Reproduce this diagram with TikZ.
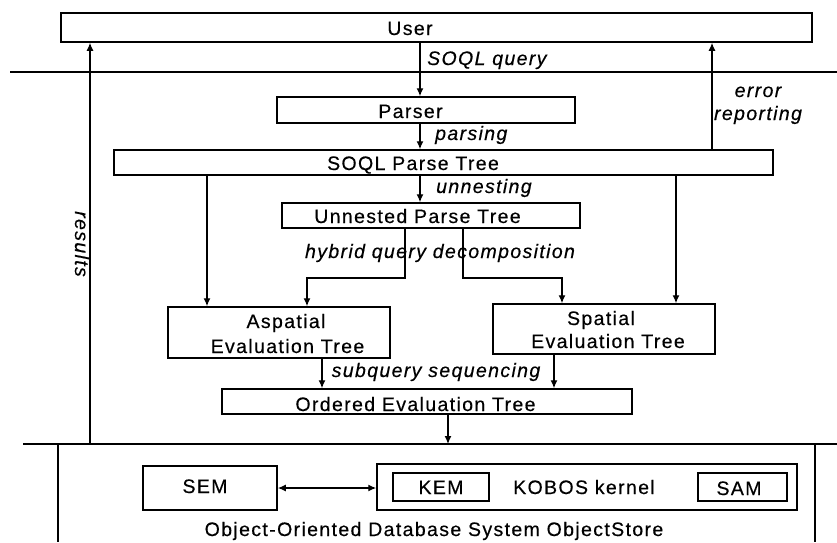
\documentclass[tikz,border=0pt]{standalone}
\usepackage{fontspec}
\setmainfont{Liberation Sans}[LetterSpace=7,FakeBold=0.4]
\usetikzlibrary{arrows.meta}
\begin{document}
\begin{tikzpicture}[x=1pt,y=-1pt,
  box/.style={draw, line width=1.5pt, inner sep=0pt},
  txt/.style={font=\fontsize{19.5}{24}\selectfont, inner sep=0pt, anchor=base},
  lbl/.style={font=\fontsize{19.5}{24}\selectfont\itshape, inner sep=0pt, anchor=base},
  arr/.style={-{Latex[length=8pt,width=7pt]}, line width=1.3pt},
  darr/.style={{Latex[length=8pt,width=7pt]}-{Latex[length=8pt,width=7pt]}, line width=1.3pt},
  sep/.style={line width=1.3pt}]
\useasboundingbox (0,0) rectangle (837,542);
% boxes
\node[box, minimum width=751pt, minimum height=29pt] (user) at (436.5,27.5) {};
\node[txt] (usert) at (410,35) {User};
\node[box, minimum width=298pt, minimum height=26pt] (parser) at (426,110) {};
\node[txt] (parsert) at (410.5,118) {Parser};
\node[box, minimum width=659pt, minimum height=25pt] (soql) at (443.5,162.5) {};
\node[txt] (soqlt) at (413,170) {SOQL Parse Tree};
\node[box, minimum width=298pt, minimum height=25pt] (unn) at (431,215.5) {};
\node[txt] (unnt) at (417.5,223) {Unnested Parse Tree};
\node[box, minimum width=222pt, minimum height=51pt] (asp) at (279,332.5) {};
\node[txt] (aspt1) at (286,328) {Aspatial};
\node[txt] (aspt2) at (287.5,353) {Evaluation Tree};
\node[box, minimum width=222pt, minimum height=50pt] (spa) at (604,329) {};
\node[txt] (spat1) at (601,325) {Spatial};
\node[txt] (spat2) at (608,348) {Evaluation Tree};
\node[box, minimum width=410pt, minimum height=25pt] (ord) at (427,401.5) {};
\node[txt] (ordt) at (415.5,411) {Ordered Evaluation Tree};
\node[box, minimum width=134pt, minimum height=44pt] (sem) at (210,488) {};
\node[txt] (semt) at (205,493) {SEM};
\node[box, minimum width=420pt, minimum height=46pt] (kobos) at (587,487) {};
\node[txt] (kobost) at (584,494) {KOBOS kernel};
\node[box, minimum width=96pt, minimum height=28pt] (kem) at (441,487) {};
\node[txt] (kemt) at (441,494) {KEM};
\node[box, minimum width=89pt, minimum height=28pt] (sam) at (742.5,487) {};
\node[txt] (samt) at (739,495) {SAM};
\node[txt] (oodb) at (434,536) {Object-Oriented Database System ObjectStore};
% labels
\node[lbl, anchor=base west] (l1) at (427,65) {SOQL query};
\node[lbl, anchor=base west] (l2) at (435,140) {parsing};
\node[lbl, anchor=base west] (l3) at (436,193) {unnesting};
\node[lbl] (l4) at (758,97) {error};
\node[lbl] (l5) at (758,120) {reporting};
\node[lbl, anchor=center, rotate=-90] (l6) at (82,244) {results};
\node[lbl] (l7) at (440,258) {hybrid query decomposition};
\node[lbl] (l8) at (436,377) {subquery sequencing};
% separators
\coordinate (tl) at (10,72); \coordinate (tr) at (837,72);
\draw[sep] (tl) -- (tr);
\coordinate (bl) at (23,444); \coordinate (br) at (837,444);
\draw[sep] (bl) -- (br);
\coordinate (dl) at (58,444); \coordinate (dl2) at (58,542);
\coordinate (dr) at (815,444); \coordinate (dr2) at (815,542);
\draw[sep] (dl) -- (dl2);
\draw[sep] (dr) -- (dr2);
% arrows
\coordinate (mx) at (420,0);
\draw[arr] (user.south -| mx) -- (parser.north -| mx);
\draw[arr] (parser.south -| mx) -- (soql.north -| mx);
\draw[arr] (soql.south -| mx) -- (unn.north -| mx);
\coordinate (res) at (90,444);
\draw[arr] (res) -- (res |- user.south);
\coordinate (ex) at (712,0);
\draw[arr] (soql.north -| ex) -- (user.south -| ex);
\coordinate (lx) at (207,0);
\draw[arr] (soql.south -| lx) -- (asp.north -| lx);
\coordinate (rx) at (676,0);
\draw[arr] (soql.south -| rx) -- (spa.north -| rx);
\coordinate (hl) at (405,278); \coordinate (hl2) at (307,278);
\draw[arr] (unn.south -| hl) -- (hl) -- (hl2) -- (asp.north -| hl2);
\coordinate (hr) at (463,278); \coordinate (hr2) at (562,278);
\draw[arr] (unn.south -| hr) -- (hr) -- (hr2) -- (spa.north -| hr2);
\coordinate (sa) at (322,0); \coordinate (sb) at (554,0);
\draw[arr] (asp.south -| sa) -- (ord.north -| sa);
\draw[arr] (spa.south -| sb) -- (ord.north -| sb);
\coordinate (ob) at (448,444);
\draw[arr] (ord.south -| ob) -- (ob);
\draw[darr] (sem.east) -- (sem.east -| kobos.west);
\end{tikzpicture}
\end{document}
